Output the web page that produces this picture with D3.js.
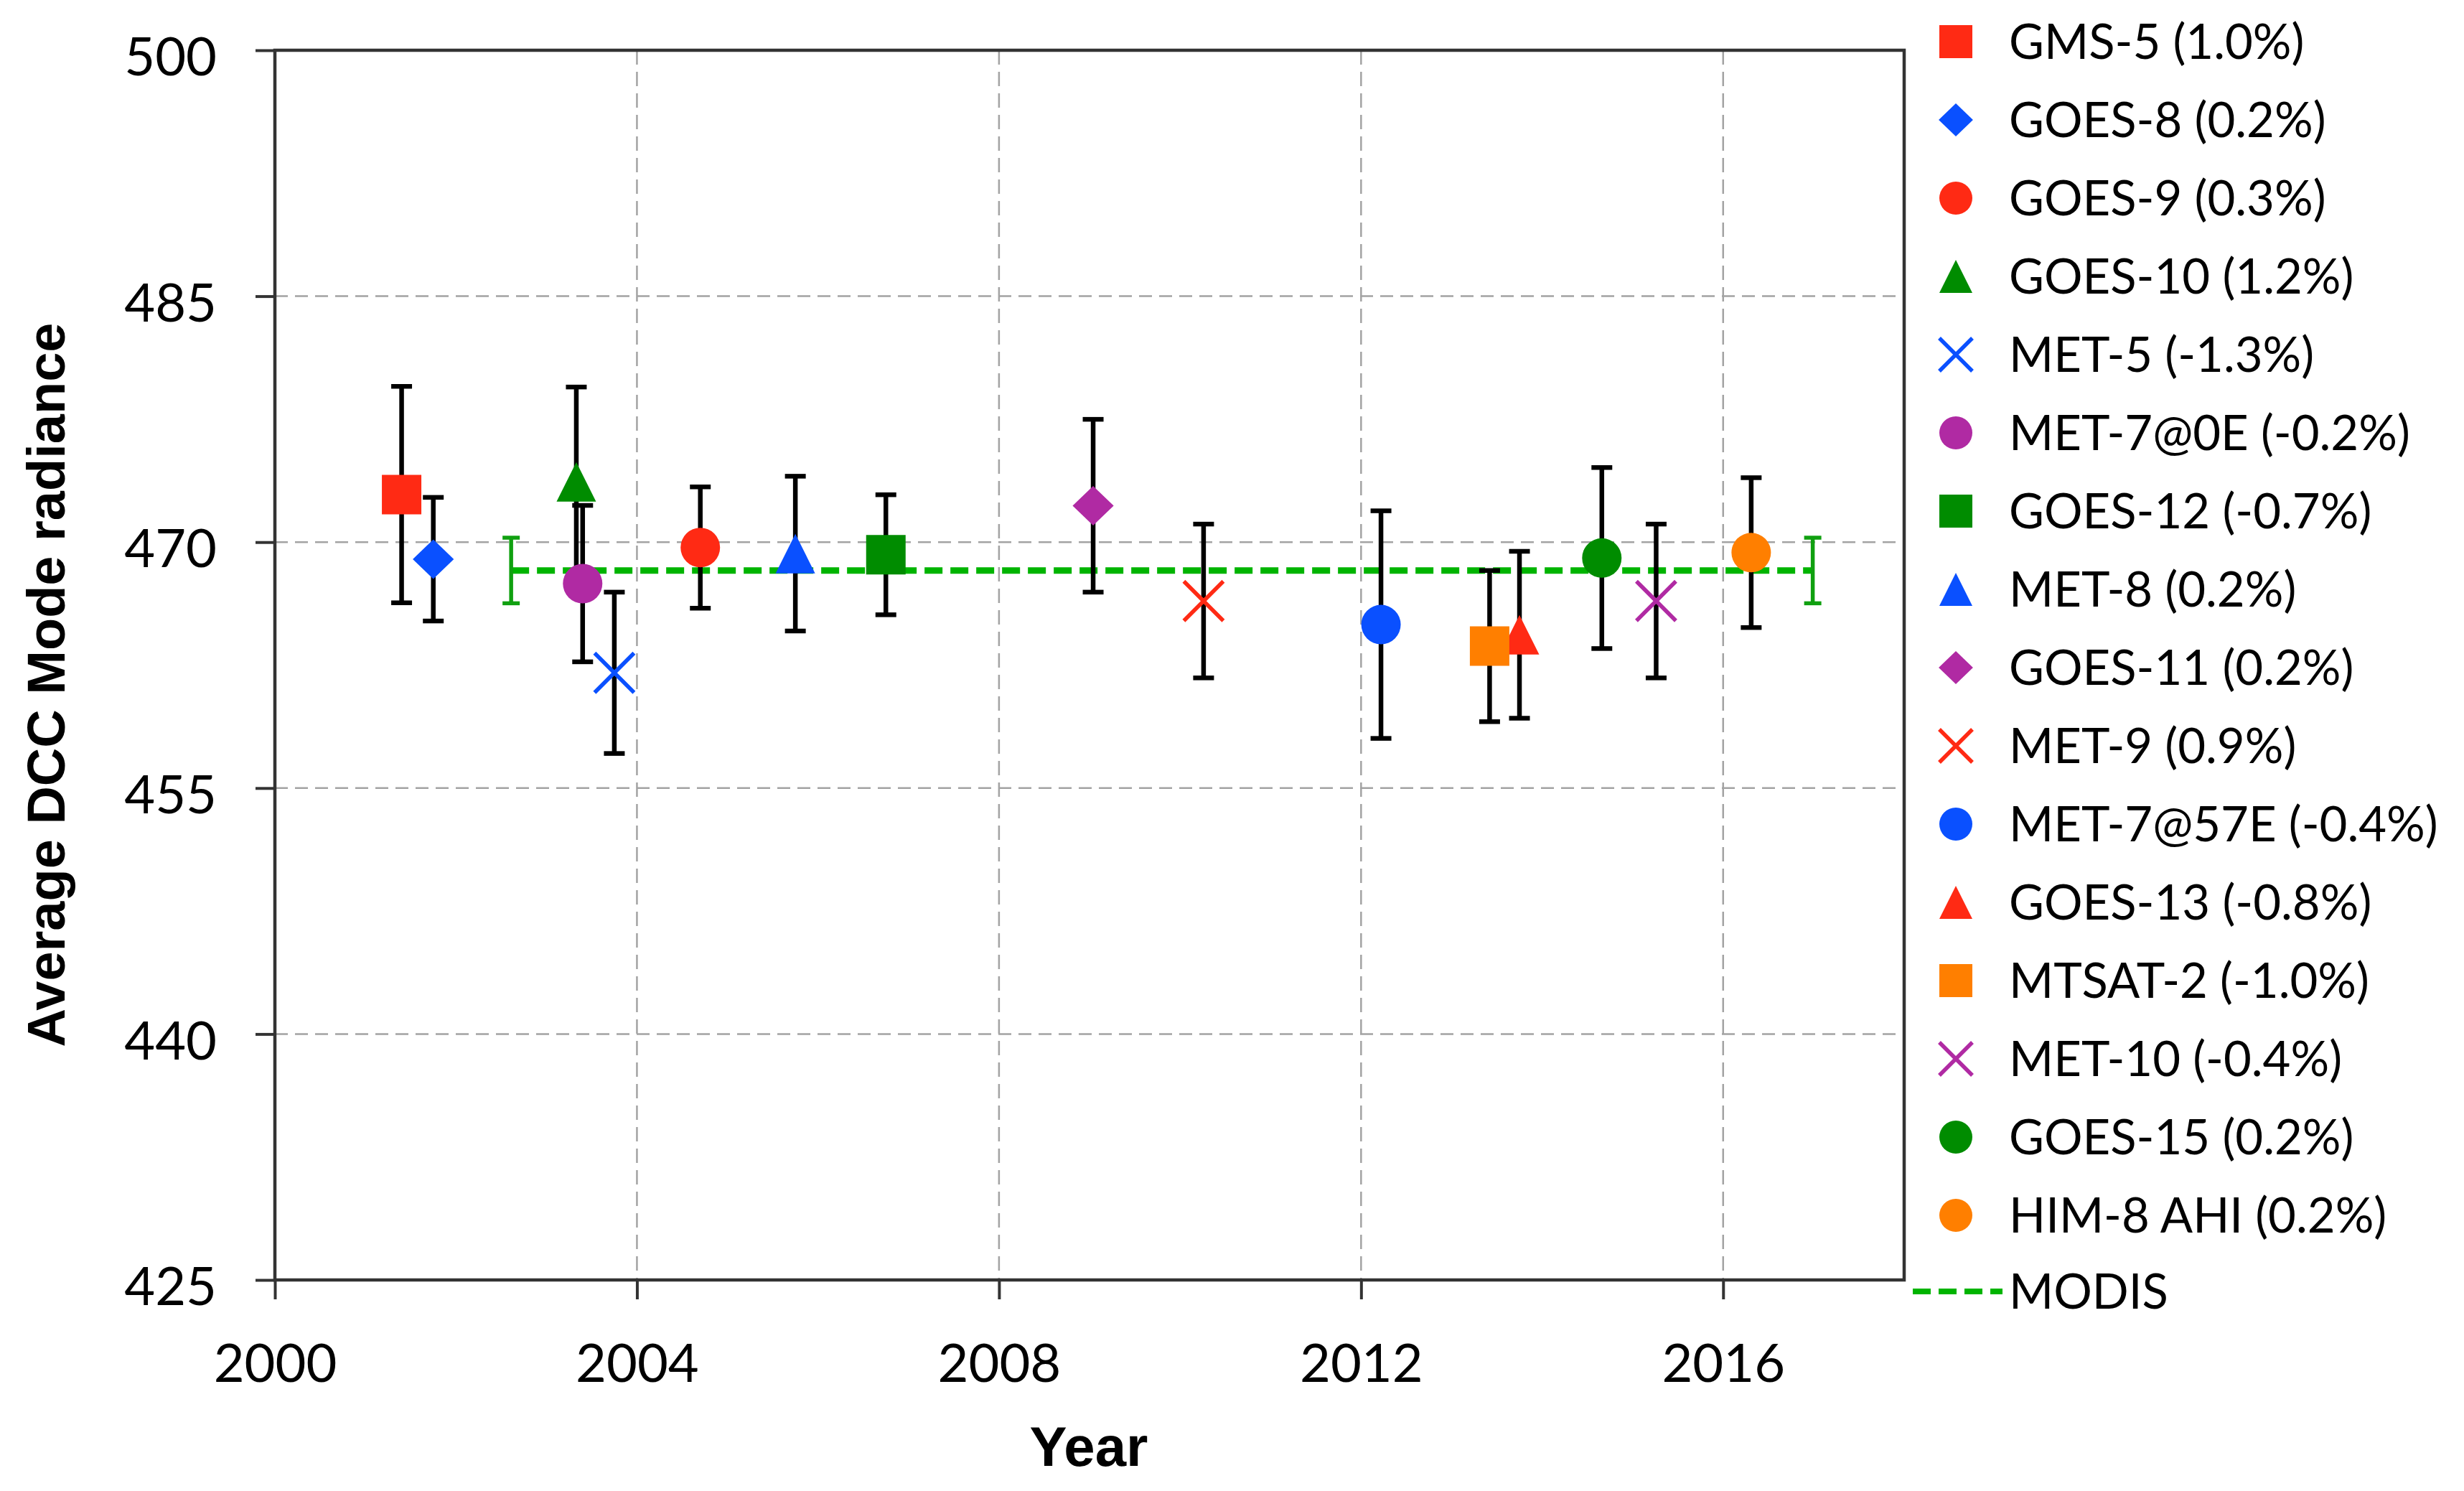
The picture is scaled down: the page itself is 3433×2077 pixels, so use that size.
<!DOCTYPE html>
<html>
<head>
<meta charset="utf-8">
<script src="https://cdn.jsdelivr.net/npm/d3@7"></script>
<style>
  html, body { margin: 0; padding: 0; background: #fff; }
  svg { display: block; }
</style>
</head>
<body>
<div id="chart"></div>
<script>
// ---------------- DATA ----------------
const names = ["GMS-5 (1.0%)", "GOES-8 (0.2%)", "GOES-9 (0.3%)", "GOES-10 (1.2%)", "MET-5 (-1.3%)",
  "MET-7@0E (-0.2%)", "GOES-12 (-0.7%)", "MET-8 (0.2%)", "GOES-11 (0.2%)", "MET-9 (0.9%)",
  "MET-7@57E (-0.4%)", "GOES-13 (-0.8%)", "MTSAT-2 (-1.0%)", "MET-10 (-0.4%)", "GOES-15 (0.2%)", "HIM-8 AHI (0.2%)"];
const years  = [2001.40, 2001.75, 2004.70, 2003.33, 2003.75, 2003.40, 2006.75, 2005.75, 2009.04, 2010.26,
  2012.22, 2013.75, 2013.42, 2015.26, 2014.66, 2016.31];
const values = [472.9, 468.96, 469.67, 473.68, 462.03, 467.47, 469.23, 469.3, 472.22, 466.41,
  464.97, 464.35, 463.66, 466.41, 469.03, 469.36];
const errors = [6.6, 3.77, 3.7, 5.78, 4.92, 4.77, 3.66, 4.72, 5.27, 4.69, 6.94, 5.09, 4.61, 4.69, 5.52, 4.57];
const shapes = ["square", "diamond", "circle", "triangle", "x", "circle", "square", "triangle", "diamond", "x",
  "circle", "triangle", "square", "x", "circle", "circle"];
const colorKeys = ["red", "blue", "red", "green", "blue", "purple", "green", "blue", "purple", "red",
  "blue", "red", "orange", "purple", "green", "orange"];
const modisYears = [2002.61, 2016.99];
const modisValue = 468.27;
const modisError = 2.0;
const modisLabel = "MODIS";
const xTicks = [2000, 2004, 2008, 2012, 2016];
const yTicks = [425, 440, 455, 470, 485, 500];
const xTitle = "Year";
const yTitle = "Average DCC Mode radiance";

// ---------------- STYLE ----------------
const palette = { red: "#ff2a14", blue: "#0a50ff", green: "#008c00", purple: "#b02aa3", orange: "#ff7f00" };
const W = 3433, H = 2077;
const M = { left: 383, top: 70, right: 3433 - 2653, bottom: 2077 - 1783 };
const iw = W - M.left - M.right, ih = H - M.top - M.bottom;

const svg = d3.select("#chart").append("svg").attr("width", W).attr("height", H);
const g = svg.append("g").attr("transform", `translate(${M.left},${M.top})`);

const x = d3.scaleLinear().domain([2000, 2018]).range([0, iw]);
const y = d3.scaleLinear().domain([425, 500]).range([ih, 0]);

// gridlines
g.append("g").selectAll("line").data(yTicks.filter(v => v > 425 && v < 500)).join("line")
  .attr("x1", 0).attr("x2", iw).attr("y1", d => y(d)).attr("y2", d => y(d))
  .attr("stroke", "#a3a3a3").attr("stroke-width", 2.5).attr("stroke-dasharray", "18,10");
g.append("g").selectAll("line").data(xTicks.filter(v => v > 2000)).join("line")
  .attr("y1", 0).attr("y2", ih).attr("x1", d => x(d)).attr("x2", d => x(d))
  .attr("stroke", "#a3a3a3").attr("stroke-width", 2.5).attr("stroke-dasharray", "20,10");

// axes
const tickFont = "Lato, 'Open Sans', sans-serif";
const yAxis = g.append("g").call(d3.axisLeft(y).tickValues(yTicks).tickSize(27).tickPadding(54).tickFormat(d3.format("d")));
const xAxis = g.append("g").attr("transform", `translate(0,${ih})`)
  .call(d3.axisBottom(x).tickValues(xTicks).tickSize(27).tickPadding(62).tickFormat(d3.format("d")));
[yAxis, xAxis].forEach(a => {
  a.select(".domain").remove();
  a.selectAll(".tick line").attr("stroke", "#333").attr("stroke-width", 4);
  a.selectAll(".tick text").attr("font-family", tickFont).attr("font-size", 74).attr("fill", "#000");
});
yAxis.selectAll(".tick text").attr("dy", "0.47em");
xAxis.selectAll(".tick text").attr("dy", "0.71em");

// frame
g.append("rect").attr("x", 0).attr("y", 0).attr("width", iw).attr("height", ih)
  .attr("fill", "none").attr("stroke", "#333").attr("stroke-width", 4.5);

// MODIS line with error bars
const modisColor = "#00b400";
g.append("line")
  .attr("x1", x(modisYears[0])).attr("x2", x(modisYears[1]))
  .attr("y1", y(modisValue)).attr("y2", y(modisValue))
  .attr("stroke", modisColor).attr("stroke-width", 9).attr("stroke-dasharray", "25,11");
const mErr = g.append("g").attr("stroke", "#10a010").attr("stroke-width", 5.5);
modisYears.forEach(t => {
  mErr.append("line").attr("x1", x(t)).attr("x2", x(t)).attr("y1", y(modisValue + modisError)).attr("y2", y(modisValue - modisError));
  [modisValue + modisError, modisValue - modisError].forEach(v =>
    mErr.append("line").attr("x1", x(t) - 12).attr("x2", x(t) + 12).attr("y1", y(v)).attr("y2", y(v)));
});

// marker path generator
function markerPath(shape, s) {
  const h = s / 2;
  switch (shape) {
    case "square": return `M${-h},${-h}H${h}V${h}H${-h}Z`;
    case "diamond": return `M0,${-h}L${h * 1.04},0L0,${h}L${-h * 1.04},0Z`;
    case "triangle": return `M0,${-h}L${h},${h}L${-h},${h}Z`;
    case "circle": return `M${h},0A${h},${h} 0 1,1 ${-h},0A${h},${h} 0 1,1 ${h},0Z`;
    case "x": return `M${-h},${-h}L${h},${h}M${-h},${h}L${h},${-h}`;
  }
}
function drawMarker(sel, shape, color, s) {
  const p = sel.append("path").attr("d", markerPath(shape, s));
  if (shape === "x") p.attr("fill", "none").attr("stroke", color).attr("stroke-width", 5.5);
  else p.attr("fill", color).attr("stroke", "none");
}

// series: error bars and markers
const idx = d3.range(names.length);
const series = g.append("g").selectAll("g").data(idx).join("g");
series.each(function (i) {
  const sg = d3.select(this);
  const cx = x(years[i]);
  const eb = sg.append("g").attr("stroke", "#000").attr("stroke-width", 6.5);
  eb.append("line").attr("x1", cx).attr("x2", cx).attr("y1", y(values[i] + errors[i])).attr("y2", y(values[i] - errors[i]));
  [values[i] + errors[i], values[i] - errors[i]].forEach(v =>
    eb.append("line").attr("x1", cx - 14.5).attr("x2", cx + 14.5).attr("y1", y(v)).attr("y2", y(v)));
  const mg = sg.append("g").attr("transform", `translate(${cx},${y(values[i])})`);
  drawMarker(mg, shapes[i], palette[colorKeys[i]], 55);
});

// axis titles
const titleFont = "'Liberation Sans', Arial, sans-serif";
svg.append("text").attr("x", 1517).attr("y", 2042).attr("text-anchor", "middle")
  .attr("font-family", titleFont).attr("font-weight", "bold").attr("font-size", 78).text(xTitle);
svg.append("text").attr("transform", "translate(90,954) rotate(-90)").attr("text-anchor", "middle")
  .attr("font-family", titleFont).attr("font-weight", "bold").attr("font-size", 74).text(yTitle);

// legend
const leg = svg.append("g");
const legX = 2725, legY0 = 58, legStep = 109, legTextX = 2799, legFont = 67;
idx.forEach(i => {
  const ly = legY0 + i * legStep;
  const mg = leg.append("g").attr("transform", `translate(${legX},${ly})`);
  drawMarker(mg, shapes[i], palette[colorKeys[i]], 46);
  leg.append("text").attr("x", legTextX).attr("y", ly).attr("dy", "0.36em")
    .attr("font-family", tickFont).attr("font-size", legFont).attr("fill", "#000").text(names[i]);
});
const mly = legY0 + names.length * legStep - 3;
leg.append("line").attr("x1", 2665).attr("x2", 2790).attr("y1", mly).attr("y2", mly)
  .attr("stroke", modisColor).attr("stroke-width", 8).attr("stroke-dasharray", "25,11");
leg.append("text").attr("x", legTextX).attr("y", mly).attr("dy", "0.36em")
  .attr("font-family", tickFont).attr("font-size", legFont).attr("fill", "#000").text(modisLabel);
</script>
</body>
</html>
